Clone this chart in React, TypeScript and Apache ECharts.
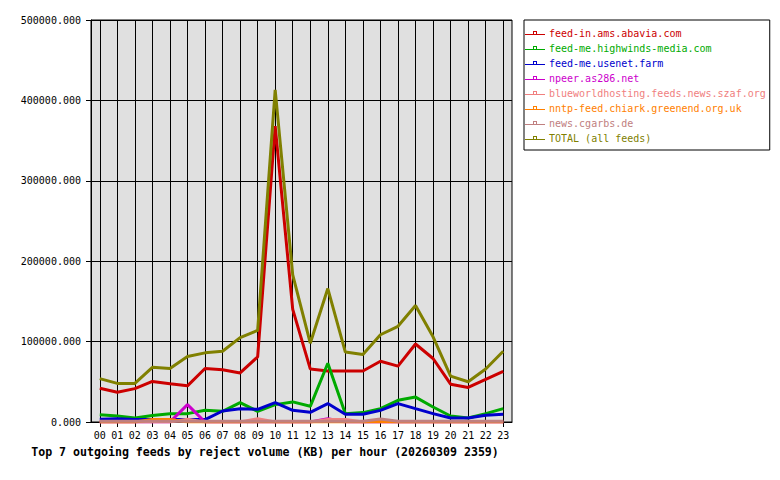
import React, { useEffect, useRef } from "react";
import * as echarts from "echarts";

const hours = ["00","01","02","03","04","05","06","07","08","09","10","11","12","13","14","15","16","17","18","19","20","21","22","23"];

const feedInAbavia = [42000, 37000, 41500, 50500, 47500, 45000, 66500, 65000, 61000, 81000, 368000, 140000, 66000, 63500, 63500, 63500, 75500, 69500, 97000, 79000, 47000, 43000, 53000, 63000];
const feedMeHighwinds = [9000, 7500, 5000, 8000, 10400, 10400, 14500, 13300, 24000, 13300, 21600, 25000, 19500, 73000, 10400, 11700, 16600, 27000, 31000, 18700, 7500, 5000, 10400, 16600];
const feedMeUsenetFarm = [3500, 4000, 3000, 3000, 3000, 3000, 3000, 13700, 16600, 15800, 24000, 14500, 12000, 22900, 9600, 9600, 14500, 22900, 16600, 10400, 5000, 5000, 8300, 9600];
const npeerAs286 = [0, 0, 0, 0, 0, 21600, 0, 0, 0, 0, 0, 0, 0, 4000, 0, 0, 0, 0, 0, 0, 0, 0, 0, 0];
const blueworldhosting = [0, 0, 0, 0, 0, 3500, 0, 0, 0, 4000, 0, 0, 0, 3000, 3000, 0, 0, 0, 0, 0, 0, 0, 0, 0];
const nntpChiark = [0, 0, 0, 3000, 3000, 0, 0, 0, 0, 0, 0, 0, 0, 0, 0, 0, 500, 0, 0, 0, 0, 0, 0, 0];
const newsCgarbs = [900, 900, 900, 900, 900, 900, 900, 900, 900, 900, 900, 900, 900, 900, 900, 900, 3800, 900, 900, 900, 900, 900, 900, 900];
const totalAll = [54000, 48000, 48000, 68000, 66500, 81500, 86000, 88000, 105000, 114000, 413000, 183000, 98000, 166000, 87000, 84000, 108500, 119000, 145000, 106000, 57000, 50000, 66000, 88000];

const seriesNames = [
  "feed-in.ams.abavia.com",
  "feed-me.highwinds-media.com",
  "feed-me.usenet.farm",
  "npeer.as286.net",
  "blueworldhosting.feeds.news.szaf.org",
  "nntp-feed.chiark.greenend.org.uk",
  "news.cgarbs.de",
  "TOTAL (all feeds)",
];
const seriesData = [feedInAbavia, feedMeHighwinds, feedMeUsenetFarm, npeerAs286, blueworldhosting, nntpChiark, newsCgarbs, totalAll];
const seriesColors = ["#cc0000", "#00aa00", "#0000cc", "#cc00cc", "#f08080", "#ff8000", "#c08080", "#808000"];

const titleText = "Top 7 outgoing feeds by reject volume (KB) per hour (20260309 2359)";

const MONO = "'DejaVu Sans Mono', 'Liberation Mono', monospace";
const legendIcon = "path://M0,3H8V0H12V3H20V4H0ZM9,1V3H11V1Z";

export default function App() {
  const ref = useRef<HTMLDivElement>(null);
  useEffect(() => {
    if (!ref.current) return;
    const chart = echarts.init(ref.current, undefined, { renderer: "svg" });
    chart.setOption({
      animation: false,
      backgroundColor: "#ffffff",
      grid: {
        left: 91,
        top: 20,
        width: 421,
        height: 402,
        show: true,
        backgroundColor: "#e0e0e0",
        borderColor: "#000000",
        borderWidth: 1,
      },
      legend: {
        orient: "vertical",
        left: 524,
        top: 20,
        padding: [7, 4, 6, 1],
        itemGap: 3,
        itemWidth: 20,
        itemHeight: 4,
        borderColor: "#000000",
        borderWidth: 1,
        backgroundColor: "#ffffff",
        selectedMode: false,
        textStyle: { fontFamily: MONO, fontSize: 10, lineHeight: 12, padding: [0, 0, 0, -1] },
        data: seriesNames.map((n, i) => ({
          name: n,
          icon: legendIcon,
          itemStyle: { color: seriesColors[i] },
          textStyle: { color: seriesColors[i] },
        })),
      },
      xAxis: {
        type: "category",
        data: hours,
        boundaryGap: true,
        axisLine: { show: true, lineStyle: { color: "#000000", width: 1 } },
        axisTick: { show: true, alignWithLabel: true, length: 5, lineStyle: { color: "#000000" } },
        splitLine: { show: true, alignWithLabel: true, lineStyle: { color: "#000000", width: 1 } },
        axisLabel: { color: "#000000", fontFamily: MONO, fontSize: 10, margin: 8, interval: 0 },
      },
      yAxis: {
        type: "value",
        min: 0,
        max: 500000,
        interval: 100000,
        axisLine: { show: true, lineStyle: { color: "#000000", width: 1 } },
        axisTick: { show: true, length: 5, lineStyle: { color: "#000000" } },
        splitLine: { show: true, lineStyle: { color: "#000000", width: 1 } },
        axisLabel: {
          color: "#000000",
          fontFamily: MONO,
          fontSize: 10,
          margin: 10,
          formatter: (v: number) => v.toFixed(3),
        },
      },
      graphic: [
        {
          type: "text",
          x: 265,
          y: 452,
          style: {
            text: titleText,
            align: "center",
            verticalAlign: "middle",
            textAlign: "center",
            textVerticalAlign: "middle",
            font: "bold 11.6px " + MONO,
            fill: "#000000",
          },
        },
      ],
      series: seriesNames.map((n, i) => ({
        name: n,
        type: "line",
        data: seriesData[i],
        showSymbol: false,
        symbol: "none",
        color: seriesColors[i],
        lineStyle: { color: seriesColors[i], width: 3 },
        emphasis: { disabled: true },
      })),
    });
    return () => chart.dispose();
  }, []);
  return <div ref={ref} style={{ position: "fixed", left: 0, top: 0, width: 780, height: 480 }} />;
}
